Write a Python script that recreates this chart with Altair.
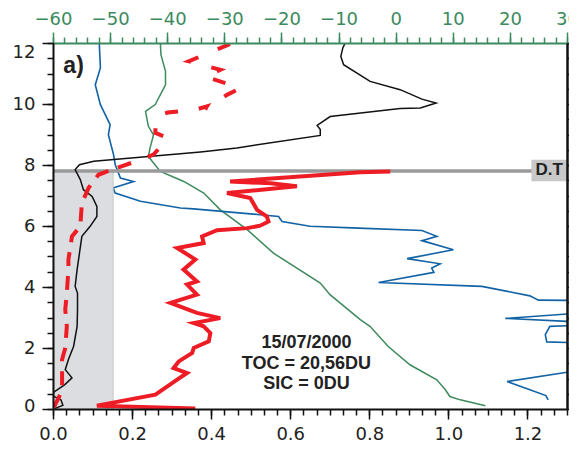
import altair as alt
import pandas as pd

# ---- data ----
# bottom-axis series (x in bottom-axis units, y in km)
black_x = [0.005, 0.025, 0.02, 0.005, 0.0, 0.002, 0.03, 0.048, 0.031, 0.039, 0.052, 0.061, 0.062, 0.062,
           0.056, 0.061, 0.073, 0.094, 0.111, 0.111, 0.099, 0.077, 0.069, 0.056, 0.067, 0.103, 0.373,
           0.465, 0.676, 0.676, 0.668, 0.701, 0.878, 0.929, 0.969, 0.933, 0.878, 0.802, 0.735, 0.728,
           0.733, 0.739]
black_y = [0.02, 0.12, 0.3, 0.4, 0.45, 0.55, 0.8, 1.02, 1.29, 1.62, 2.05, 2.71, 3.26, 3.8,
           4.02, 4.57, 5.66, 5.99, 6.31, 6.64, 6.97, 7.19, 7.52, 7.85, 8.01, 8.12, 8.43,
           8.56, 8.97, 9.16, 9.3, 9.59, 9.85, 9.87, 10.03, 10.16, 10.47, 10.74, 11.29, 11.56,
           11.84, 12.0]

red_x = [0.36, 0.111, 0.259, 0.314, 0.339, 0.305, 0.318, 0.352, 0.356, 0.394, 0.398, 0.381, 0.356,
         0.423, 0.364, 0.297, 0.364, 0.339, 0.364, 0.33, 0.36, 0.314, 0.381, 0.377, 0.415, 0.491,
         0.524, 0.545, 0.541, 0.516, 0.499, 0.44, 0.617, 0.55, 0.448, 0.777, 0.853]
red_y = [0.02, 0.11, 0.47, 0.96, 1.18, 1.34, 1.56, 1.84, 2.0, 2.22, 2.49, 2.71, 2.82,
         2.98, 3.15, 3.48, 3.75, 4.08, 4.18, 4.57, 4.9, 5.28, 5.44, 5.66, 5.86, 5.93,
         6.01, 6.15, 6.31, 6.53, 6.92, 7.08, 7.3, 7.4, 7.46, 7.76, 7.79]

# dashed red: lower part (to 8.17 km) and upper part (from 8.17 km)
dash_lo_x = [0.002, 0.014, 0.023, 0.023, 0.031, 0.035, 0.031, 0.035, 0.039, 0.039, 0.048, 0.069, 0.073,
             0.09, 0.115, 0.149, 0.221]
dash_lo_y = [0.05, 0.36, 0.63, 1.62, 2.0, 2.71, 3.26, 3.8, 4.57, 4.9, 5.66, 5.99, 6.75,
             7.25, 7.68, 7.85, 8.17]
dash_hi_x = [0.221, 0.254, 0.292, 0.259, 0.259, 0.265, 0.29, 0.36, 0.389, 0.385,
             0.44, 0.474, 0.385, 0.423, 0.343, 0.445, 0.45]
dash_hi_y = [8.17, 8.34, 8.88, 9.05, 9.45, 9.62, 9.72, 9.81, 9.92, 9.84,
             10.3, 10.52, 10.9, 11.12, 11.4, 11.95, 12.0]

# top-axis series (x in top-axis units, y in km)
green_t = [15.7, 11.3, 9.5, 8.7, 7.2, 2.5, -1.3, -4.5, -6.2, -11.5, -13.2, -21.4, -26.0, -30.7,
           -33.6, -37.1, -41.2, -43.3, -43.0, -42.4, -43.3, -43.8, -42.1, -40.3, -40.3, -41.1, -41.2]
green_y = [0.11, 0.30, 0.41, 0.63, 0.96, 1.45, 2.05, 2.71, 2.93, 3.75, 4.13, 5.11, 5.88, 6.53,
           7.08, 7.46, 7.79, 8.28, 8.56, 8.99, 9.27, 9.76, 9.98, 10.63, 11.07, 11.62, 12.0]

blue_t = [26.7, 26.3, 23.5, 19.5, 30.5, 40, 40, 30.5, 26.45, 26.2, 27.0, 30.5, 40, 30.5, 19.2, 30.5,
          40, 30.5, 25.0, 23.5, 15.1, -3.0, 6.7, 6.3, 7.8, 2.0, 10.1, 4.6, 7.2, 4.6, -6.5, -15.0,
          -19.9, -20.5, -23.7, -35.4, -37.7, -44.7, -49.1, -49.5, -45.9, -48.2, -49.1, -49.4, -50.3,
          -50.0, -51.7, -52.6, -51.7, -51.9]
blue_y = [0.30, 0.44, 0.63, 0.90, 1.22, 1.6, 2.1, 2.18, 2.2, 2.44, 2.71, 2.73, 2.8, 2.87, 2.97, 3.12,
          3.3, 3.56, 3.57, 3.71, 4.02, 4.15, 4.48, 4.62, 4.76, 4.93, 5.22, 5.52, 5.66, 5.85, 5.93, 5.99,
          6.15, 6.31, 6.37, 6.56, 6.59, 6.81, 7.08, 7.25, 7.46, 7.57, 8.01, 8.34, 8.99,
          9.32, 9.98, 10.63, 11.18, 12.0]

bottom_ticks = [0.0, 0.2, 0.4, 0.6, 0.8, 1.0, 1.2]
top_ticks = [-60, -50, -40, -30, -20, -10, 0, 10, 20, 30]
left_ticks_mid = [2, 4, 6, 8, 10]
tropopause_km = 7.8
shade_x = [0.0, 0.152]
info_lines = ["15/07/2000", "TOC = 20,56DU", "SIC = 0DU"]

# ---- tables ----
def series(xs, ys, name):
    return pd.DataFrame({"x": xs, "y": ys, "s": name, "i": range(len(xs))})

bottom_df = pd.concat([series(black_x, black_y, "black"),
                       series(red_x, red_y, "red"),
                       series(dash_lo_x, dash_lo_y, "dash_lo"),
                       series(dash_hi_x, dash_hi_y, "dash_hi")], ignore_index=True)
top_df = pd.concat([series(green_t, green_y, "green"),
                    series(blue_t, blue_y, "blue")], ignore_index=True)
shade_df = pd.DataFrame({"x0": [shade_x[0]], "x1": [shade_x[1]], "y0": [0.0], "y1": [tropopause_km]})

GREEN = "#3b8a5e"
LBL = dict(labelFont="DejaVu Sans", labelFontSize=18, labelColor="#222222")

XB = alt.Scale(domain=[0, 1.3], nice=False, zero=False)
XT = alt.Scale(domain=[-60, 30], nice=False, zero=False)
YS = alt.Scale(domain=[0, 12], nice=False, zero=False)

ax_bottom = alt.Axis(orient="bottom", values=bottom_ticks, format=".1f", title=None, grid=False,
                     tickSize=10, tickWidth=1.5, tickColor="#111", domainColor="#111", domainWidth=2,
                     labelPadding=6, labelFlush=False, zindex=2, **LBL)
left_common = dict(orient="left", format="d", title=None, grid=False, tickSize=11, tickWidth=1.5,
                   tickColor="#111", labelPadding=7, zindex=2, **LBL)
ax_left = alt.Axis(values=left_ticks_mid, domainColor="#111", domainWidth=2, **left_common)
ax_left_top = alt.Axis(values=[12], domain=False, labelOffset=9, **left_common)
ax_left_zero = alt.Axis(values=[0], domain=False, labelOffset=-3, **left_common)
ax_bottom_minor = alt.Axis(orient="bottom", values=[k / 30 for k in range(40)], labels=False, title=None,
                           grid=False, domain=False, tickSize=6, tickWidth=1.5, tickColor="#111", zindex=2)
ax_left_minor = alt.Axis(orient="left", values=[k / 2 for k in range(25)], labels=False, title=None,
                         grid=False, domain=False, tickSize=6, tickWidth=1.5, tickColor="#111", zindex=2)
ax_top = alt.Axis(orient="top", values=top_ticks, format="d", title=None, grid=False,
                  tickSize=11, tickWidth=1.5, tickColor=GREEN, domainColor=GREEN, domainWidth=2,
                  labelPadding=4, labelFlush=False, zindex=2, labelFont="DejaVu Sans", labelFontSize=18,
                  labelColor=GREEN)
ax_top_minor = alt.Axis(orient="top", values=list(range(-60, 31, 2)), labels=False, title=None,
                        grid=False, domain=False, tickSize=6, tickWidth=1.5, tickColor=GREEN, zindex=2)
ax_right = alt.Axis(orient="right", values=[k / 2 for k in range(25)], labels=False, title=None,
                    grid=False, tickSize=7, tickWidth=1.5, tickColor="#111", domainColor="#111",
                    domainWidth=2.5, zindex=2)

# ---- bottom-axis layer ----
shade = alt.Chart(shade_df).mark_rect(color="#dcdde0", stroke="#c4c5c8", strokeWidth=1).encode(
    x=alt.X("x0:Q", scale=XB, axis=ax_bottom), x2="x1",
    y=alt.Y("y0:Q", scale=YS, axis=ax_left), y2="y1")

def bline(name, **style):
    return alt.Chart(bottom_df).transform_filter(alt.datum.s == name).mark_line(clip=True, **style).encode(
        x=alt.X("x:Q", scale=XB, axis=ax_bottom), y=alt.Y("y:Q", scale=YS, axis=ax_left), order="i:Q")

black = bline("black", color="#111111", strokeWidth=1.5)
red = bline("red", color="#ee1c25", strokeWidth=4)
dash_lo = bline("dash_lo", color="#ee1c25", strokeWidth=4, strokeDash=[14, 10])
dash_hi = bline("dash_hi", color="#ee1c25", strokeWidth=4, strokeDash=[13, 21], strokeDashOffset=-8)

tp_rule = alt.Chart(shade_df).mark_rule(color="#9a9a9a", strokeWidth=3.5).encode(
    y=alt.Y("y1:Q", scale=YS, axis=ax_left))
dt_box = alt.Chart(shade_df).mark_rect(color="#c8c8c8").encode(
    x=alt.datum(1.21), x2=alt.datum(1.3), y=alt.datum(7.47), y2=alt.datum(8.17))
dt_text = alt.Chart(shade_df).mark_text(text="D.T", font="Liberation Sans", fontSize=17, fontWeight="bold",
                                        color="#222222").encode(x=alt.datum(1.255), y=alt.datum(7.84))
a_text = alt.Chart(shade_df).mark_text(text="a)", font="Liberation Sans", fontSize=23, fontWeight="bold",
                                       color="#222222").encode(x=alt.datum(0.052), y=alt.datum(11.23))
info = alt.Chart(shade_df).mark_text(text=info_lines, font="Liberation Sans", fontSize=18, fontWeight="bold",
                                     color="#222222", lineHeight=20.5, baseline="middle").encode(
    x=alt.datum(0.641), y=alt.datum(2.16))

bottom_layer = alt.layer(shade, tp_rule, dt_box, dt_text, black, dash_lo, dash_hi, red, a_text, info)

# ---- top-axis layer ----
def tline(name, color, width):
    return alt.Chart(top_df).transform_filter(alt.datum.s == name).mark_line(
        clip=True, color=color, strokeWidth=width).encode(
        x=alt.X("x:Q", scale=XT, axis=ax_top), y=alt.Y("y:Q", scale=YS, axis=ax_right), order="i:Q")

top_layer = alt.layer(tline("green", "#3d8a5c", 1.5), tline("blue", "#1262a6", 1.6))

# ---- tick / label helper layers ----
minor_bl = alt.Chart(shade_df).mark_point(opacity=0).encode(
    x=alt.X("x0:Q", scale=XB, axis=ax_bottom_minor), y=alt.Y("y0:Q", scale=YS, axis=ax_left_minor))
minor_t = alt.Chart(shade_df).mark_point(opacity=0).encode(
    x=alt.X("x0:Q", scale=alt.Scale(domain=[-60, 30], nice=False, zero=False), axis=ax_top_minor),
    y=alt.Y("y0:Q", scale=YS, axis=ax_left_top))
zero_lbl = alt.Chart(shade_df).mark_point(opacity=0).encode(
    x=alt.X("x0:Q", scale=XB, axis=None),
    y=alt.Y("y0:Q", scale=YS, axis=ax_left_zero))

chart = alt.layer(top_layer, bottom_layer, minor_bl, minor_t, zero_lbl).resolve_scale(
    x="independent", y="independent").properties(
    width=514, height=366,
    padding={"left": 45, "top": 35, "right": 2, "bottom": 33},
    autosize=alt.AutoSizeParams(type="none"),
).configure_view(stroke=None)

chart.save("out.html", embed_options={"renderer": "svg", "actions": False})
